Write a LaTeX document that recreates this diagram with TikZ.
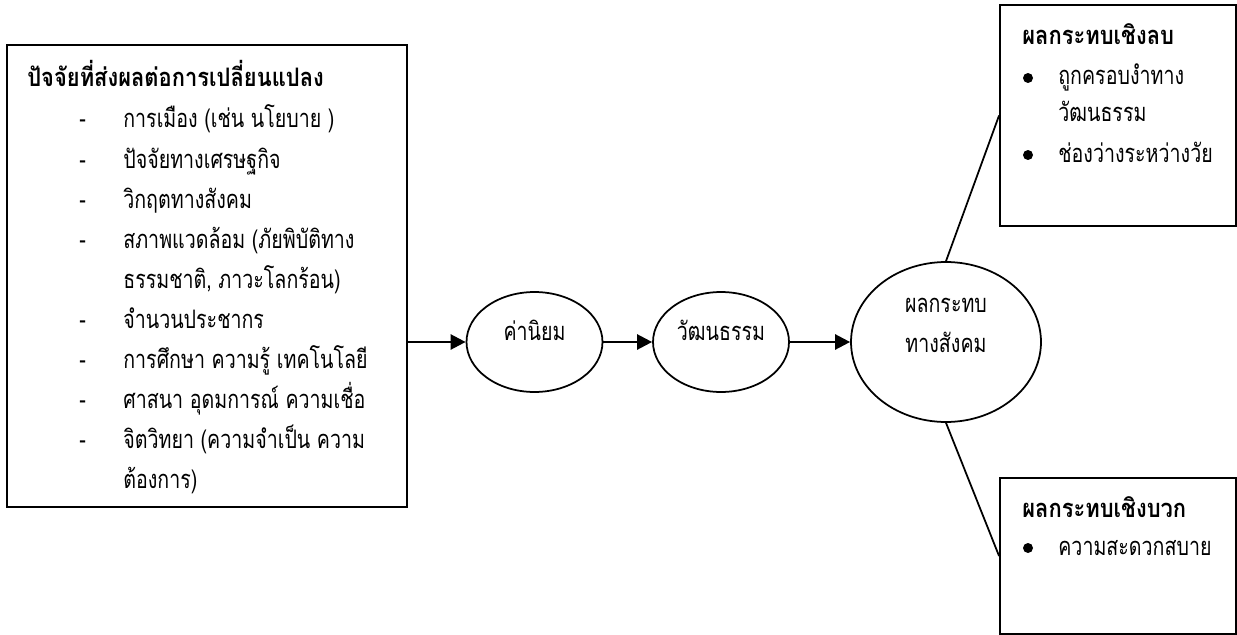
\documentclass[tikz,border=0pt]{standalone}
\usepackage{fontspec}
\setmainfont[Script=Thai, FakeStretch=0.77, BoldFeatures={FakeStretch=0.86}]{Loma}
\usetikzlibrary{shapes.geometric,arrows.meta}
\def\mfont{\fontsize{14.5}{22.8}\selectfont}
\def\mrow{40}
\tikzset{
  box/.style={draw, line width=1.1pt, inner sep=0pt},
  bubble/.style={draw, ellipse, line width=1pt, inner sep=0pt, font=\mfont, text height=0.2cm, text depth=0.28cm},
  txt/.style={anchor=base west, inner sep=0pt, font=\mfont},
  headtxt/.style={txt, font=\mfont\bfseries},
  dot/.style={circle, fill, inner sep=0pt, minimum size=0.2cm},
  link/.style={line width=1.4pt, -{Triangle[length=0.3cm, width=0.3cm]}},
  spoke/.style={line width=1pt}
}

\begin{document}
\begin{tikzpicture}[x=0.02cm, y=-0.02cm]
	\useasboundingbox (0,0) rectangle (1237,635);
	% factor box
	\node[box, minimum width=8cm, minimum height=9.24cm] (factors) at (207,276) {};
	\node[headtxt] (f-head) at (27,87) {ปัจจัยที่ส่งผลต่อการเปลี่ยนแปลง};
	\foreach \i/\d/\t in {0/-/{การเมือง (เช่น นโยบาย )}, 1/-/{ปัจจัยทางเศรษฐกิจ}, 2/-/{วิกฤตทางสังคม},
		3/-/{สภาพแวดล้อม (ภัยพิบัติทาง}, 4//{ธรรมชาติ, ภาวะโลกร้อน)}, 5/-/{จำนวนประชากร},
		6/-/{การศึกษา ความรู้ เทคโนโลยี}, 7/-/{ศาสนา อุดมการณ์ ความเชื่อ},
		8/-/{จิตวิทยา (ความจำเป็น ความ}, 9//{ต้องการ)}}
	{
		\node[txt] (f-dash-\i) at (79,128+\i*\mrow) {\d};
		\node[txt] (f-item-\i) at (123,128+\i*\mrow) {\t};
	}
	% chain
	\node[bubble, minimum width=2.72cm, minimum height=2cm] (values) at (534.5,342) {ค่านิยม};
	\node[bubble, minimum width=2.72cm, minimum height=2cm] (culture) at (721,342) {วัฒนธรรม};
	\node[bubble, minimum width=3.8cm, minimum height=3.2cm] (impact) at (946,342)
		{\raisebox{0.18cm}[0pt][0pt]{\begin{tabular}{@{}c@{}}ผลกระทบ\\ทางสังคม\end{tabular}}};
	\draw[link] (factors.east |- values.west) -- (values.west);
	\draw[link] (values.east) -- (culture.west);
	\draw[link] (culture.east) -- (impact.west);
	% negative
	\node[box, minimum width=4.72cm, minimum height=4.42cm] (neg) at (1118,115.5) {};
	\node[headtxt] (neg-head) at (1022,45) {ผลกระทบเชิงลบ};
	\node[dot] (neg-dot-1) at (1028,78) {};
	\node[txt] (neg-item-1) at (1058,85) {ถูกครอบงำทาง};
	\node[txt] (neg-item-1b) at (1058,122) {วัฒนธรรม};
	\node[dot] (neg-dot-2) at (1028,155) {};
	\node[txt] (neg-item-2) at (1058,162) {ช่องว่างระหว่างวัย};
	% positive
	\node[box, minimum width=4.72cm, minimum height=3.12cm] (pos) at (1118,556) {};
	\node[headtxt] (pos-head) at (1022,517) {ผลกระทบเชิงบวก};
	\node[dot] (pos-dot-1) at (1028,548) {};
	\node[txt] (pos-item-1) at (1058,555) {ความสะดวกสบาย};
	\draw[spoke] (impact.north) -- (neg.west);
	\draw[spoke] (impact.south) -- (pos.west);
\end{tikzpicture}
\end{document}
